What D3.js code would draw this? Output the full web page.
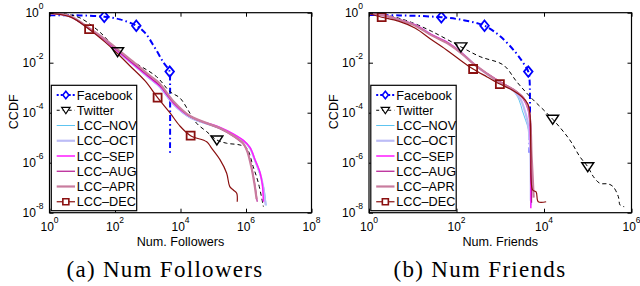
<!DOCTYPE html>
<html><head><meta charset="utf-8">
<script src="https://cdn.jsdelivr.net/npm/d3@7"></script>
<style>body{margin:0;background:#fff} svg{display:block}</style>
</head><body>
<svg id="c" width="640" height="286"></svg>
<script>
// ---------- DATA ----------
const seriesNames = ["Facebook","Twitter","LCC–NOV","LCC–OCT","LCC–SEP","LCC–AUG","LCC–APR","LCC–DEC"];
const yTickValues = [1e-8,1e-6,1e-4,1e-2,1];
const xTicksFollowers = [1,1e2,1e4,1e6,1e8];
const xTicksFriends = [1,1e2,1e4,1e6];

// (a) Num Followers : [value, CCDF]
const fbFollowers = [[1,0.79],[8.5,0.78],[47,0.69],[141,0.54],[447,0.30],[830,0.155],[1660,0.039],[2950,0.0107],[4680,0.0044],[4790,0.0020],[4790,2.5e-6]];
const fbFollowersMarks = [[47,0.69],[447,0.30],[4680,0.0044]];
const twFollowers = [[1,0.955],[3.16,0.89],[8.5,0.62],[24.5,0.245],[49,0.107],[120,0.0275],[355,0.011],[1860,0.00275],[4790,6.9e-4],[9550,3.9e-4],[19500,9.5e-5],[30900,3.8e-5],[63100,1.74e-5],[1.29e5,8.1e-6],[2.57e5,6.0e-6],[6.6e5,5.1e-6],[1.05e6,3.8e-6],[1.66e6,6.9e-7],[2.4e6,1.5e-7],[3.4e6,1.74e-8]];
const twFollowersMarks = [[120,0.0275],[1.29e5,8.1e-6]];
const novFollowers = [[1,0.95],[4.3,0.70],[16.2,0.228],[49,0.078],[115,0.029],[355,0.0082],[1175,0.0022],[2340,0.00100],[6030,2.1e-4],[19500,6.2e-5],[1.62e5,2.3e-5],[8.3e5,7.0e-6],[1.32e6,3.6e-6],[1.9e6,1.1e-6],[2.7e6,3.2e-7],[3.5e6,1.0e-7],[3.9e6,3.8e-8],[4.1e6,1.9e-8]];
const octFollowers = [[1,0.95],[4.3,0.70],[16.2,0.23],[49,0.079],[115,0.030],[355,0.0085],[1175,0.0023],[2340,0.00108],[6030,2.25e-4],[19500,6.6e-5],[1.62e5,2.4e-5],[8.3e5,7.4e-6],[1.32e6,3.9e-6],[1.9e6,1.2e-6],[2.7e6,3.6e-7],[3.3e6,1.2e-7],[3.7e6,4e-8],[4.0e6,2.0e-8]];
const sepFollowers = [[1,0.955],[4.3,0.71],[16.2,0.234],[49,0.081],[115,0.031],[355,0.0089],[1175,0.00245],[2340,0.00117],[6030,2.45e-4],[12000,1.07e-4],[19500,7.1e-5],[39800,4.7e-5],[1.62e5,2.57e-5],[4.1e5,1.41e-5],[8.3e5,7.8e-6],[1.32e6,4.1e-6],[1.9e6,1.29e-6],[2.7e6,3.9e-7],[3.16e6,1.29e-7],[3.4e6,2.75e-8]];
const augFollowers = [[1,0.95],[4.3,0.70],[16.2,0.23],[49,0.082],[115,0.032],[355,0.0095],[1175,0.0026],[2340,0.00125],[6030,2.6e-4],[19500,7.0e-5],[1.62e5,2.3e-5],[4.1e5,1.15e-5],[8.3e5,5.5e-6],[1.15e6,2.45e-6],[1.5e6,6.2e-7],[1.86e6,1.3e-7],[2.2e6,2.75e-8]];
const aprFollowers = [[1,0.96],[4.3,0.72],[16.2,0.24],[49,0.088],[115,0.036],[355,0.011],[1175,0.0030],[2340,0.00145],[6030,2.9e-4],[19500,7.4e-5],[1.62e5,2.4e-5],[4.1e5,1.2e-5],[8.3e5,5.8e-6],[1.1e6,2.8e-6],[1.45e6,6.8e-7],[1.8e6,1.5e-7],[2.1e6,3.5e-8]];
const decFollowers = [[1,0.93],[4.3,0.68],[16.2,0.219],[49,0.068],[115,0.0245],[288,0.0074],[830,0.00186],[2000,4.0e-4],[4790,9.8e-5],[9550,2.95e-5],[20400,1.2e-5],[63100,6.9e-6],[89000,3.8e-6],[1.62e5,1.29e-6],[2.57e5,3.8e-7],[3.2e5,1.1e-7],[4.1e5,8.1e-8],[5.2e5,6.0e-8],[5.4e5,2.75e-8]];
const decFollowersMarks = [[16.2,0.219],[2000,4.0e-4],[20400,1.2e-5]];

// (b) Num Friends : [value, CCDF]
const fbFriends = [[1,0.81],[5.1,0.78],[45,0.66],[155,0.49],[437,0.30],[980,0.117],[2190,0.027],[3390,0.0095],[4370,0.0044],[4680,0.0020],[4680,2.5e-6]];
const fbFriendsMarks = [[45,0.66],[437,0.30],[4370,0.0044]];
const twFriends = [[1,0.955],[3.0,0.74],[8.7,0.43],[27,0.18],[126,0.043],[347,0.0174],[1175,0.0081],[2400,0.0017],[4790,4.4e-4],[15800,5.5e-5],[38900,8.1e-6],[66000,1.74e-6],[1.0e5,6.9e-7],[1.35e5,2.75e-7],[1.9e5,1.5e-7],[2.95e5,1.41e-7],[3.8e5,1.1e-7],[5.0e5,4.4e-8],[5.5e5,2.0e-8],[6.8e5,1.74e-8]];
const twFriendsMarks = [[126,0.043],[15800,5.5e-5],[1.0e5,6.9e-7]];
const novFriends = [[1,0.97],[2.3,0.76],[4.7,0.53],[11.2,0.32],[27,0.128],[65,0.060],[132,0.0235],[263,0.0080],[540,0.0031],[980,0.00155],[2000,7.2e-4],[2700,3.2e-4],[3200,1.2e-4],[3800,5.0e-5],[4400,2.2e-5],[4800,5e-6],[5000,5e-7],[5050,2e-8]];
const octFriends = [[1,0.97],[2.3,0.765],[4.7,0.535],[11.2,0.325],[27,0.13],[65,0.061],[132,0.024],[263,0.0082],[540,0.0032],[980,0.0016],[2000,7.6e-4],[2900,3.5e-4],[3500,1.5e-4],[4100,5.5e-5],[4600,1.5e-5],[4900,2e-6],[5000,3e-8]];
const sepFriends = [[1,0.98],[2.3,0.77],[4.7,0.54],[11.2,0.33],[27,0.132],[65,0.062],[132,0.0245],[263,0.0083],[540,0.0033],[980,0.0017],[2000,8.1e-4],[3390,3.55e-4],[4370,1.29e-4],[4790,2.75e-5],[5000,1.29e-6],[5000,1.5e-8]];
const augFriends = [[1,0.975],[2.3,0.765],[4.7,0.53],[11.2,0.32],[27,0.128],[65,0.059],[132,0.0235],[263,0.0082],[540,0.0034],[980,0.00175],[2000,8.6e-4],[3390,4.0e-4],[4370,1.8e-4],[4900,5e-5],[5100,3e-6],[5200,2.5e-8]];
const aprFriends = [[1,0.97],[2.3,0.76],[4.7,0.52],[11.2,0.31],[27,0.124],[65,0.057],[132,0.023],[263,0.0081],[540,0.0033],[980,0.00165],[2000,8.3e-4],[3390,3.8e-4],[4370,1.5e-4],[4900,3.5e-5],[5200,2e-6],[5500,3e-7],[5800,4e-8]];
const decFriends = [[1,0.91],[1.95,0.66],[4.7,0.46],[11.2,0.245],[27,0.083],[65,0.029],[132,0.0115],[240,0.0056],[500,0.0027],[980,0.0014],[1860,8.1e-4],[3160,4.3e-4],[4270,2.24e-4],[4790,8.1e-5],[5000,3.2e-6],[5500,8.1e-8],[6600,6.8e-8],[7400,2.75e-8],[11200,2.75e-8]];
const decFriendsMarks = [[1.95,0.66],[240,0.0056],[980,0.0014]];

// ---------- STYLE ----------
const styles = {
  "Facebook": {color:"#0000ff", width:2, dash:"6,3,1.5,3", marker:"diamond"},
  "Twitter":  {color:"#000000", width:1, dash:"4,3", marker:"triangle"},
  "LCC–NOV":  {color:"#5ec4f0", width:1},
  "LCC–OCT":  {color:"#bcbcf6", width:2.2},
  "LCC–SEP":  {color:"#ff1aff", width:1.5},
  "LCC–AUG":  {color:"#b4168f", width:1.2},
  "LCC–APR":  {color:"#c97c9e", width:2.2},
  "LCC–DEC":  {color:"#8a1010", width:1.2, marker:"square"}
};

const panels = [
  {id:"a", left:49.5, right:311.5, top:12.7, bottom:212.7, xDomain:[1,1e8], xTicks:xTicksFollowers,
   xLabel:"Num. Followers", caption:"(a) Num Followers", captionX:165, ccdfX:17.8,
   series:[fbFollowers,twFollowers,novFollowers,octFollowers,sepFollowers,augFollowers,aprFollowers,decFollowers],
   marks:{"Facebook":fbFollowersMarks,"Twitter":twFollowersMarks,"LCC–DEC":decFollowersMarks}},
  {id:"b", left:369, right:631.5, top:12.7, bottom:212.7, xDomain:[1,1e6], xTicks:xTicksFriends,
   xLabel:"Num. Friends", caption:"(b) Num Friends", captionX:480, ccdfX:337.8,
   series:[fbFriends,twFriends,novFriends,octFriends,sepFriends,augFriends,aprFriends,decFriends],
   marks:{"Facebook":fbFriendsMarks,"Twitter":twFriendsMarks,"LCC–DEC":decFriendsMarks}}
];

const sans = "'Liberation Sans', Arial, Helvetica, sans-serif";
const svg = d3.select("#c");

function markerPath(type, s) {
  if (type === "diamond") return `M0,${-5.3*s}L${4.3*s},0L0,${5.3*s}L${-4.3*s},0Z`;
  if (type === "triangle") return `M${-6*s},${-4*s}L${6*s},${-4*s}L0,${5*s}Z`;
  if (type === "square") return `M${-4*s},${-4*s}H${4*s}V${4*s}H${-4*s}Z`;
  return "";
}

panels.forEach(p => {
  const g = svg.append("g");
  const x = d3.scaleLog().domain(p.xDomain).range([p.left, p.right]);
  const y = d3.scaleLog().domain([1e-8, 1]).range([p.bottom, p.top]);

  const clipId = "clip" + p.id;
  svg.append("clipPath").attr("id", clipId).append("rect")
    .attr("x", p.left).attr("y", p.top).attr("width", p.right - p.left).attr("height", p.bottom - p.top);

  const line = d3.line().x(d => x(d[0])).y(d => y(d[1])).curve(d3.curveCatmullRom.alpha(0.5));
  const plot = g.append("g").attr("clip-path", `url(#${clipId})`);

  seriesNames.forEach((name, i) => {
    const st = styles[name];
    plot.append("path").datum(p.series[i]).attr("d", line)
      .attr("fill", "none").attr("stroke", st.color).attr("stroke-width", st.width)
      .attr("stroke-dasharray", st.dash || null).attr("stroke-linejoin", "round");
  });
  seriesNames.forEach(name => {
    const st = styles[name];
    const m = p.marks[name];
    if (!m) return;
    plot.selectAll(null).data(m).enter().append("path")
      .attr("transform", d => `translate(${x(d[0])},${y(d[1])})`)
      .attr("d", markerPath(st.marker, 1))
      .attr("fill", "none").attr("stroke", st.color)
      .attr("stroke-width", name === "Twitter" ? 1.4 : 1.8);
  });

  // axes with inward ticks on all four sides
  const axes = [
    [d3.axisBottom(x).tickValues(p.xTicks), `translate(0,${p.bottom})`],
    [d3.axisTop(x).tickValues(p.xTicks), `translate(0,${p.top})`],
    [d3.axisLeft(y).tickValues(yTickValues), `translate(${p.left},0)`],
    [d3.axisRight(y).tickValues(yTickValues), `translate(${p.right},0)`]
  ];
  axes.forEach(([ax, tr]) => {
    const a = g.append("g").attr("transform", tr)
      .call(ax.tickSizeInner(-4).tickSizeOuter(0).tickFormat(() => ""));
    a.select(".domain").remove();
    a.selectAll(".tick line").attr("stroke", "#000").attr("stroke-width", 1);
  });

  g.append("rect").attr("x", p.left).attr("y", p.top)
    .attr("width", p.right - p.left).attr("height", p.bottom - p.top)
    .attr("fill", "none").attr("stroke", "#000").attr("stroke-width", 1.2);

  // tick labels 10^k
  p.xTicks.forEach(v => {
    const t = g.append("text").attr("x", x(v)).attr("y", 230.5)
      .attr("text-anchor", "middle").attr("font-family", sans).attr("font-size", 12).attr("fill", "#000");
    t.append("tspan").text("10");
    t.append("tspan").attr("dy", -8).attr("font-size", 8.5).text(String(Math.round(Math.log10(v))));
  });
  yTickValues.forEach(v => {
    const t = g.append("text").attr("x", p.left - 6).attr("y", y(v) + 4.3)
      .attr("text-anchor", "end").attr("font-family", sans).attr("font-size", 12).attr("fill", "#000");
    t.append("tspan").text("10");
    t.append("tspan").attr("dy", -8).attr("font-size", 8.5).text(String(Math.round(Math.log10(v))));
  });

  g.append("text").attr("x", (p.left + p.right) / 2).attr("y", 245.6)
    .attr("text-anchor", "middle").attr("font-family", sans).attr("font-size", 12.6).text(p.xLabel);
  g.append("text").attr("transform", `translate(${p.ccdfX},111.8) rotate(-90)`)
    .attr("text-anchor", "middle").attr("font-family", sans).attr("font-size", 12.6).text("CCDF");
  g.append("text").attr("x", p.captionX).attr("y", 276.7)
    .attr("text-anchor", "middle").attr("font-family", "'Liberation Serif', 'Times New Roman', serif")
    .attr("font-size", 23).attr("letter-spacing", 1.3).text(p.caption);

  // legend
  const lx = p.left + 1.8, ly = 85.3, lw = 85.4, lh = 125.4;
  const lg = g.append("g");
  lg.append("rect").attr("x", lx).attr("y", ly).attr("width", lw).attr("height", lh)
    .attr("fill", "#fff").attr("stroke", "#000").attr("stroke-width", 1.2);
  seriesNames.forEach((name, i) => {
    const st = styles[name];
    const yy = 95 + i * 15.25;
    const x0 = lx + 5.4, x1 = lx + 23.7, xm = (x0 + x1) / 2;
    lg.append("line").attr("x1", x0).attr("x2", x1).attr("y1", yy).attr("y2", yy)
      .attr("stroke", st.color).attr("stroke-width", st.width)
      .attr("stroke-dasharray", name === "Twitter" ? "3,3" : (st.dash ? "2,2" : null));
    if (st.marker) {
      lg.append("path").attr("transform", `translate(${xm},${yy})`)
        .attr("d", markerPath(st.marker, name === "LCC–DEC" ? 0.75 : 0.7))
        .attr("fill", "#fff").attr("stroke", st.color).attr("stroke-width", name === "Twitter" ? 1.2 : 1.6);
    }
    lg.append("text").attr("x", lx + 25.4).attr("y", yy + 4.5)
      .attr("font-family", sans).attr("font-size", 12.7).attr("fill", "#000").text(name);
  });
});
</script>
</body></html>
